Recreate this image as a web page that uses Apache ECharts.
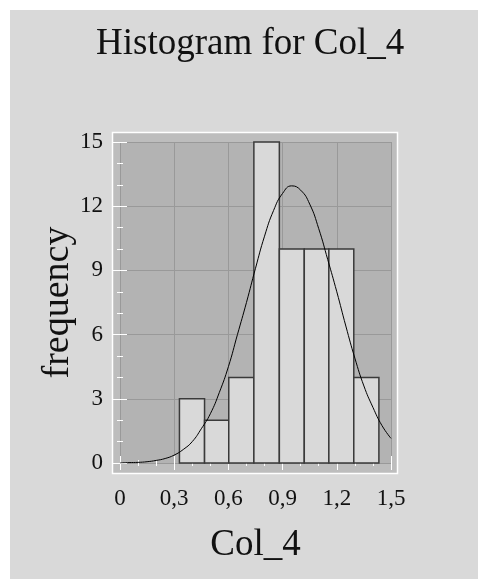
<!DOCTYPE html>
<html>
<head>
<meta charset="utf-8">
<script src="https://cdn.jsdelivr.net/npm/echarts@6/dist/echarts.min.js"></script>
<style>
  html, body { margin: 0; padding: 0; background: #fff; }
  #Hist-Chart { width: 478px; height: 579px; }
</style>
</head>
<body>
<div id="Hist-Chart"></div>
<script>
// histogram bins of Col_4
const binStart = [0.329, 0.468, 0.602, 0.741, 0.882, 1.02, 1.156, 1.294];
const binEnd = [0.468, 0.602, 0.741, 0.882, 1.02, 1.156, 1.294, 1.433];
const binCount = [3, 2, 4, 15, 10, 10, 10, 4];

// fitted curve, values read at every 0.05
const curveX = [0, 0.05, 0.1, 0.15, 0.2, 0.25, 0.3, 0.35, 0.4, 0.45, 0.5, 0.55, 0.6, 0.65, 0.7, 0.75,
    0.8, 0.85, 0.9, 0.95, 1.0, 1.05, 1.1, 1.15, 1.2, 1.25, 1.3, 1.35, 1.4, 1.45, 1.5];
const curveY = [0, 0.02, 0.03, 0.06, 0.12, 0.21, 0.37, 0.63, 1.0, 1.6, 2.3, 3.3, 4.5, 6.0, 7.5, 9.1,
    10.6, 11.8, 12.6, 12.95, 12.75, 12.1, 10.95, 9.5, 8.0, 6.4, 4.9, 3.6, 2.6, 1.75, 1.15];

const xTicks = { min: 0, max: 1.5, step: 0.3 };
const yTicks = { min: 0, max: 15, step: 3 };

function drawHistogram() {
    var dom = document.getElementById('Hist-Chart');
    var myChart = echarts.init(dom, null, { renderer: 'canvas' });

    const font = 'Liberation Serif';
    const barData = binStart.map((s, i) => [s, binEnd[i], binCount[i]]);
    const lineData = curveX.map((x, i) => [x, curveY[i]]);

    // white ticks sitting on the frame, no labels
    function frameAxis(extra) {
        return Object.assign({
            type: 'value',
            axisLine: { show: false },
            axisTick: { show: true, inside: true, length: 7, lineStyle: { color: '#fff', width: 1 } },
            minorTick: { show: true, splitNumber: 3, length: 3, lineStyle: { color: '#fff', width: 1 } },
            axisLabel: { show: false },
            splitLine: { show: false }
        }, extra);
    }

    var option = {
        backgroundColor: '#fff',
        animation: false,
        title: {
            text: 'Histogram for Col_4',
            left: 96,
            top: 26,
            padding: 0,
            textStyle: { fontFamily: font, fontSize: 37, fontWeight: 'normal', color: '#111' }
        },
        graphic: [
            { type: 'rect', z: -20, shape: { x: 10, y: 10, width: 468, height: 569 }, style: { fill: '#d9d9d9' } },
            { type: 'rect', z: -10, shape: { x: 112.5, y: 132.5, width: 285, height: 341 },
              style: { fill: '#bdbdbd', stroke: '#fff', lineWidth: 1.5 } }
        ],
        grid: {
            left: 120, right: 87, top: 142, bottom: 116,
            show: true, backgroundColor: '#b3b3b3', borderWidth: 0
        },
        xAxis: [
            frameAxis({
                position: 'bottom', offset: 10,
                min: xTicks.min, max: xTicks.max, interval: xTicks.step,
                axisLabel: {
                    show: true, margin: 14, fontFamily: font, fontSize: 23, color: '#111',
                    formatter: v => v === 0 ? '0' : v.toFixed(1).replace('.', ',')
                },
                splitLine: { show: true, lineStyle: { color: '#999', width: 1 } },
                name: 'Col_4', nameLocation: 'middle', nameGap: 54, nameMoveOverlap: false,
                nameTextStyle: { fontFamily: font, fontSize: 37, color: '#111' }
            }),
            frameAxis({ position: 'top', offset: 9, min: xTicks.min, max: xTicks.max, interval: xTicks.step })
        ],
        yAxis: [
            frameAxis({
                position: 'left', offset: 7,
                min: yTicks.min, max: yTicks.max, interval: yTicks.step,
                axisLabel: { show: true, margin: 10, fontFamily: font, fontSize: 23, color: '#111' },
                splitLine: { show: true, lineStyle: { color: '#999', width: 1 } },
                name: 'frequency', nameLocation: 'middle', nameGap: 36, nameMoveOverlap: false,
                nameTextStyle: { fontFamily: font, fontSize: 38, color: '#111' }
            }),
            frameAxis({ position: 'right', offset: 7, min: yTicks.min, max: yTicks.max, interval: yTicks.step })
        ],
        series: [
            {
                name: 'bins',
                type: 'custom',
                xAxisIndex: 0,
                yAxisIndex: 0,
                data: barData,
                renderItem: function (params, api) {
                    var p0 = api.coord([api.value(0), api.value(2)]);
                    var p1 = api.coord([api.value(1), 0]);
                    return {
                        type: 'rect',
                        shape: { x: p0[0], y: p0[1], width: p1[0] - p0[0], height: p1[1] - p0[1] },
                        style: { fill: '#d9d9d9', stroke: '#3a3a3a', lineWidth: 1.5 }
                    };
                },
                z: 2
            },
            {
                name: 'normal',
                type: 'line',
                data: lineData,
                smooth: true,
                showSymbol: false,
                lineStyle: { color: '#000', width: 1 },
                z: 3
            }
        ]
    };

    myChart.setOption(option);
    window.addEventListener('resize', myChart.resize);
}

drawHistogram();
</script>
</body>
</html>
